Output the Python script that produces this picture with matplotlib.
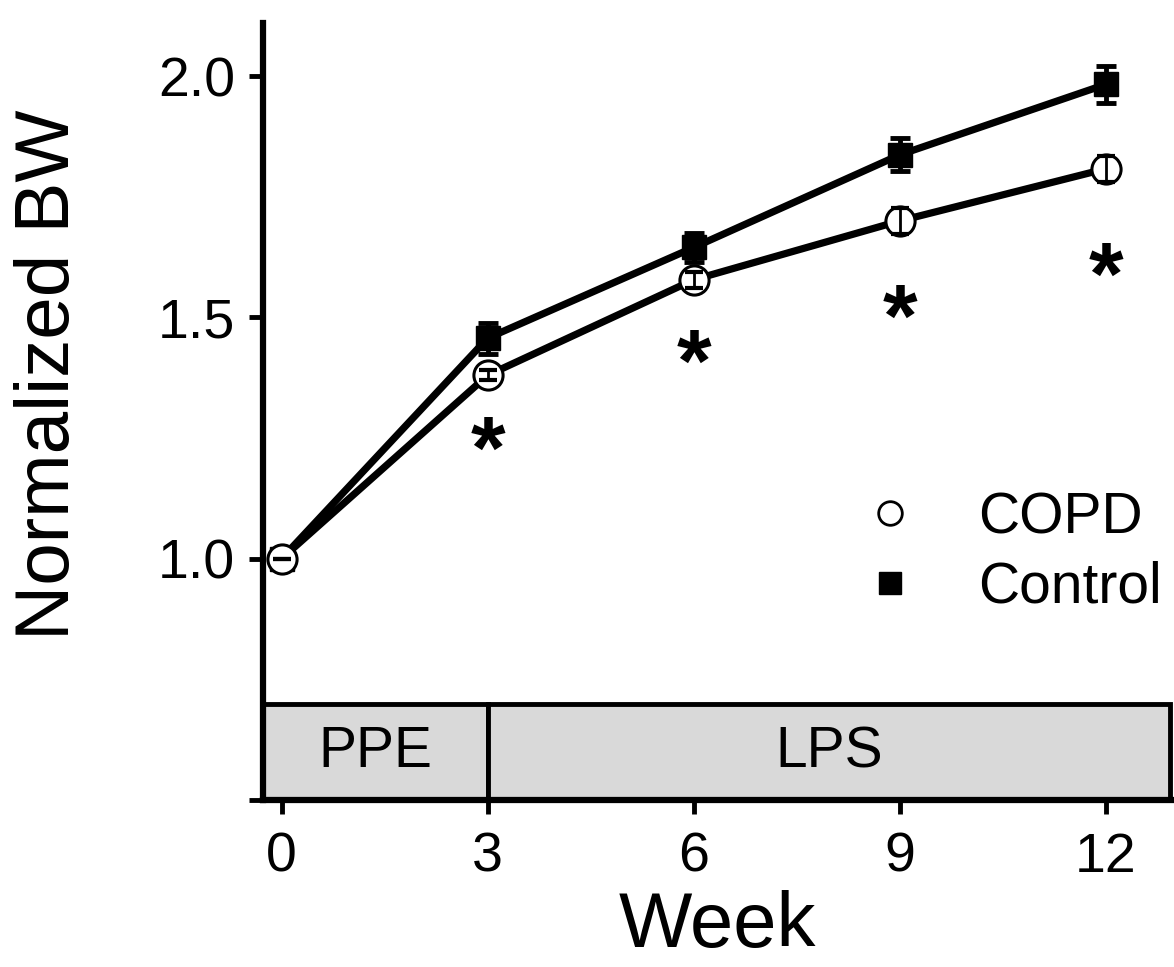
import matplotlib
matplotlib.use("Agg")
import matplotlib.pyplot as plt
from matplotlib.patches import Rectangle
from matplotlib.lines import Line2D

plt.rcParams['font.family'] = ['Liberation Sans', 'DejaVu Sans']

weeks = [0, 3, 6, 9, 12]
copd = [1.0, 1.380, 1.578, 1.700, 1.808]
copd_err = [0.0, 0.010, 0.017, 0.027, 0.027]
control = [1.0, 1.457, 1.645, 1.837, 1.983]
control_err = [0.0, 0.032, 0.030, 0.034, 0.038]
star_weeks = [3, 6, 9, 12]
star_y = [1.215, 1.395, 1.489, 1.575]
phases = ["PPE", "LPS"]
phase_start = [-0.27, 3]
phase_end = [3, 12.93]

fig = plt.figure(figsize=(11.74, 9.67), dpi=100)
ax = fig.add_axes([263/1174, 1-800/967, (1172-263)/1174, (800-23)/967])

lw = 5.2
ax.plot(weeks, control, color='black', lw=lw, marker='s', ms=17, mfc='black',
        mec='black', zorder=3)
ax.errorbar(weeks, control, yerr=control_err, fmt='none', ecolor='black',
            capsize=7, capthick=3.5, elinewidth=3.5, zorder=3.5)
ax.plot(weeks, copd, color='black', lw=lw, marker='o', ms=21, mfc='white',
        mec='black', mew=2.2, zorder=4)
ax.errorbar(weeks, copd, yerr=copd_err, fmt='none', ecolor='black',
            capsize=6.5, capthick=3, elinewidth=2, zorder=4.5)

for x, y in zip(star_weeks, star_y):
    ax.text(x, y, '*', fontsize=64, fontweight='bold', ha='center', va='center')

ybox0, ybox1 = 0.5, 0.698
for name, s, e in zip(phases, phase_start, phase_end):
    ax.add_patch(Rectangle((s, ybox0), e - s, ybox1 - ybox0, facecolor='#d9d9d9',
                           edgecolor='black', lw=3.5, clip_on=False, zorder=2))
    ax.text((s + e) / 2, (ybox0 + ybox1) / 2, name, ha='center', va='center', fontsize=41, zorder=3)

ax.set_xlim(-0.27, 12.96)
ax.set_ylim(0.5, 2.11)
ax.set_xticks(weeks)
ax.set_xticklabels([str(w) for w in weeks])
ax.set_yticks([0.5, 1.0, 1.5, 2.0])
ax.set_yticklabels(['', '1.0', '1.5', '2.0'])
ax.tick_params(axis='both', width=3.5, length=10, labelsize=40, pad=10)
ax.tick_params(axis='x', pad=13)
for sp in ['top', 'right']:
    ax.spines[sp].set_visible(False)
for sp in ['left', 'bottom']:
    ax.spines[sp].set_linewidth(4.5)
ax.set_ylabel('Normalized BW', fontsize=55)
ax.yaxis.set_label_coords(-0.196, 0.547)
ax.set_xlabel('Week', fontsize=56, labelpad=4)

handles = [Line2D([], [], ls='none', marker='o', ms=17, mfc='white', mec='black', mew=2),
           Line2D([], [], ls='none', marker='s', ms=16, mfc='black', mec='black')]
leg = ax.legend(handles, ['COPD', 'Control'], loc='center left', bbox_to_anchor=(0.671, 0.318),
                frameon=False, fontsize=41, handlelength=0.6, handletextpad=1.25,
                labelspacing=0.27, borderpad=0, borderaxespad=0)

fig.savefig('out.png', dpi=100)
